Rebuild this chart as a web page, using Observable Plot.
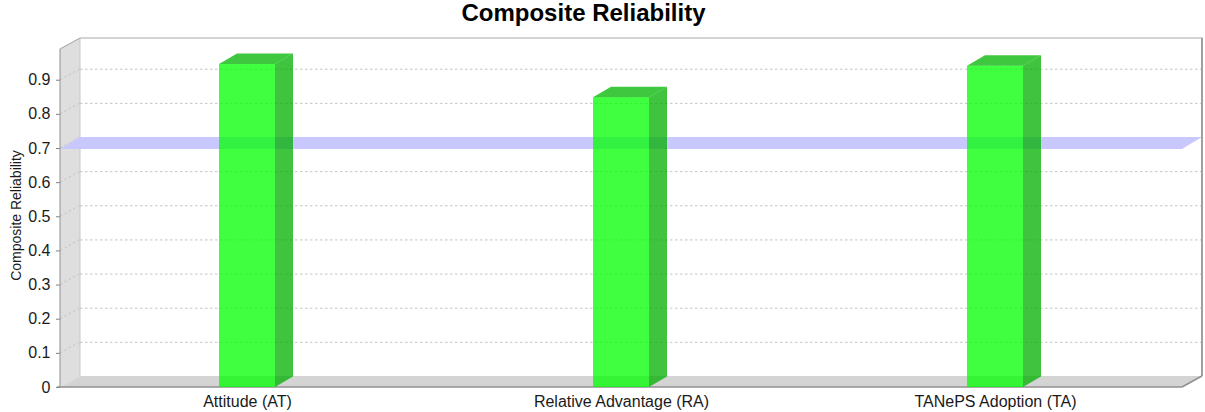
<!DOCTYPE html>
<html><head><meta charset="utf-8">
<script src="https://cdn.jsdelivr.net/npm/d3@7"></script>
<script src="https://cdn.jsdelivr.net/npm/@observablehq/plot@0.6"></script>
<style>
body{margin:0;background:#fff;font-family:"Liberation Sans",Arial,sans-serif;}
#title{width:1205px;height:30px;line-height:25px;text-align:center;font-weight:bold;font-size:24px;padding-right:38px;box-sizing:border-box;color:#000;}
g[aria-label="y-axis tick"] path, g[aria-label="y-axis"] g.tick line{stroke:#808080;}
</style></head><body>
<div id="title">Composite Reliability</div>
<div id="chart"></div>
<script>
const categories = ["Attitude (AT)", "Relative Advantage (RA)", "TANePS Adoption (TA)"];
const reliability = [0.946, 0.849, 0.941];
const threshold = [0.7];
const yTicks = [0, 0.1, 0.2, 0.3, 0.4, 0.5, 0.6, 0.7, 0.8, 0.9];
const gridTicks = yTicks.filter(d => d > 0);
const yLabel = "Composite Reliability";
const yMax = 0.99;

const data = categories.map((c, i) => ({category: c, value: reliability[i]}));

const DX = 20, DY = -11;     // depth of the chart box
const BX = 18, BY = -10.5;   // depth of the bars

function poly(g, pts, fill, opacity = 1) {
  g.append("path").attr("d", "M" + pts.map(p => p.join(",")).join("L") + "Z")
    .attr("fill", fill).attr("fill-opacity", opacity);
}
function seg(g, a, b, stroke, sw = 1, dash = null) {
  const l = g.append("line").attr("x1", a[0]).attr("y1", a[1]).attr("x2", b[0]).attr("y2", b[1])
    .attr("stroke", stroke).attr("stroke-width", sw);
  if (dash) l.attr("stroke-dasharray", dash);
}

const chrome = (index, scales, values, dims) => {
  const {y} = scales;
  const L = dims.marginLeft, R = dims.width - dims.marginRight;
  const y0 = y(0), yT = y(yMax);
  const g = d3.create("svg:g");
  poly(g, [[L + DX, yT + DY], [R + DX, yT + DY], [R + DX, y0 + DY], [L + DX, y0 + DY]], "#ffffff");
  poly(g, [[L, y0], [L, yT], [L + DX, yT + DY], [L + DX, y0 + DY]], "#dedede");
  poly(g, [[L, y0], [L + DX, y0 + DY], [R + DX, y0 + DY], [R, y0]], "#d4d4d4");
  for (const t of gridTicks) seg(g, [L, y(t)], [L + DX, y(t) + DY], "#c4c4c4", 1, "2.5,2.5");
  seg(g, [L + DX, yT + DY], [L + DX, y0 + DY], "#c8c8c8", 1);
  return g.node();
};

const plane = (index, scales, values, dims) => {
  const {y} = scales;
  const L = dims.marginLeft, R = dims.width - dims.marginRight;
  const g = d3.create("svg:g");
  for (const t of threshold) {
    const yy = y(t);
    poly(g, [[L, yy + 1], [L + DX, yy + DY], [R + DX, yy + DY], [R, yy + 1]], "#c8c8ff");
  }
  return g.node();
};

const edges = (index, scales, values, dims) => {
  const {y} = scales;
  const L = dims.marginLeft, R = dims.width - dims.marginRight;
  const y0 = y(0), yT = y(yMax);
  const g = d3.create("svg:g");
  seg(g, [L + DX, yT + DY], [R + DX + 1, yT + DY], "#a8a8a8", 1);
  seg(g, [R + DX, yT + DY], [R + DX, y0 + DY], "#a0a0a0", 2);
  seg(g, [L, yT], [L + DX, yT + DY], "#a0a0a0", 1);
  seg(g, [L, yT], [L, y0], "#909090", 1);
  seg(g, [L - 3, y0], [R, y0], "#909090", 1.5);
  seg(g, [R, y0], [R + DX, y0 + DY], "#909090", 1.5);
  return g.node();
};

const barFaces = (index, scales, values, dims) => {
  const {x, y} = scales;
  const bw = x.bandwidth ? x.bandwidth() : 0;
  const g = d3.create("svg:g");
  for (const d of data) {
    const x0 = x(d.category), x1 = x0 + bw, yv = y(d.value), yb = y(0);
    poly(g, [[x0, yv], [x0 + BX, yv + BY], [x1 + BX, yv + BY], [x1, yv]], "#00b400", 0.75);
    poly(g, [[x1, yv], [x1 + BX, yv + BY], [x1 + BX, yb + BY], [x1, yb]], "#00b000", 0.75);
  }
  return g.node();
};

const chart = Plot.plot({
  width: 1205,
  height: 382,
  marginLeft: 60,
  marginRight: 23,
  marginTop: 19,
  marginBottom: 25,
  style: {fontSize: "16px", fontFamily: "'Liberation Sans', Arial, sans-serif", color: "#1a1a1a", background: "transparent"},
  x: {domain: categories, paddingInner: 0.85, paddingOuter: 0.425, tickSize: 0, tickPadding: 8, label: null},
  y: {domain: [0, yMax], ticks: yTicks, tickFormat: d => d === 0 ? "0" : String(d), tickSize: 4, tickPadding: 6, label: null},
  marks: [
    chrome,
    Plot.ruleY(gridTicks, {dx: DX, dy: DY, stroke: "#c4c4c4", strokeDasharray: "2.5,2.5"}),
    plane,
    edges,
    Plot.barY(data, {x: "category", y: "value", fill: "#00ff00", fillOpacity: 0.75}),
    barFaces,
    Plot.text([yLabel], {text: d => d, frameAnchor: "left", textAnchor: "middle", dx: -44, dy: -3, rotate: -90, fontSize: 14, fill: "#1a1a1a"})
  ]
});
document.getElementById("chart").appendChild(chart);
</script>
</body></html>
